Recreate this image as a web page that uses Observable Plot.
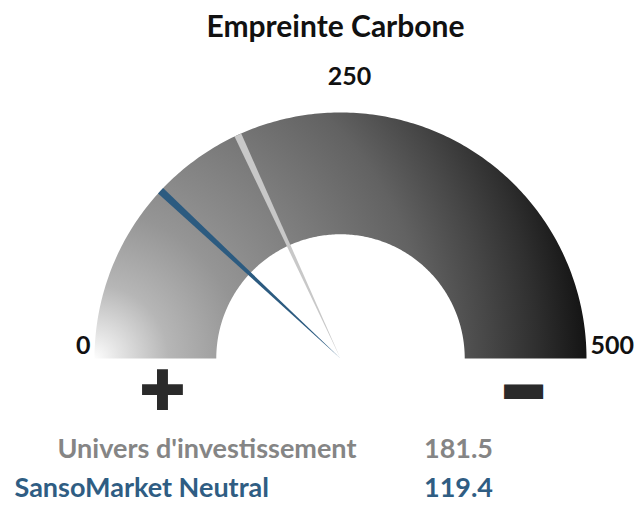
<!DOCTYPE html>
<html><head><meta charset="utf-8">
<script src="https://cdn.jsdelivr.net/npm/d3@7"></script>
<script src="https://cdn.jsdelivr.net/npm/@observablehq/plot@0.6"></script>
<style>body{margin:0;background:#fff;} #chart svg{display:block;}</style>
</head><body><div id="chart"></div>
<script>
// ---- data ----
const chartTitle = "Empreinte Carbone";
const gaugeMin = 0;
const gaugeMax = 500;
const tickValues = [0, 250, 500];
const seriesNames = ["Univers d'investissement", "SansoMarket Neutral"];
const seriesValues = [181.5, 119.4];
const needleColors = ["#c8c8c8", "#2c5b80"];
const labelColors = ["#858585", "#2f5d83"];
const plusSymbol = "✚";
const minusSymbol = "−";

// ---- layout ----
const W = 639, H = 505;
const cx = 340, cy = 358, R = 246;
const innerRatio = 0.505;
const ux = px => (px - cx) / R;
const uy = py => (cy - py) / R;
const font = "Lato, 'Open Sans', sans-serif";

const angle = d3.scaleLinear([gaugeMin, gaugeMax], [Math.PI, 0]);
const pt = (v, rho) => ({x: rho * Math.cos(angle(v)), y: rho * Math.sin(angle(v))});
const steps = d3.range(0, 241).map(i => gaugeMin + (gaugeMax - gaugeMin) * i / 240);
const band = [...steps.map(v => pt(v, 1)), ...steps.slice().reverse().map(v => pt(v, innerRatio))];

const needles = seriesValues.flatMap((v, i) => {
  const a = angle(v), d = 0.015;
  return [{x: 0, y: 0}, {x: Math.cos(a + d), y: Math.sin(a + d)}, {x: Math.cos(a - d), y: Math.sin(a - d)}]
    .map(p => ({...p, s: i}));
});

const tickMarks = tickValues.map(t => {
  const isMin = t === gaugeMin, isMax = t === gaugeMax;
  const p = pt(t, 1);
  return Plot.text([t], {
    x: () => p.x, y: () => p.y,
    text: d => String(d),
    textAnchor: isMin ? "end" : isMax ? "start" : "middle",
    dx: isMin ? -4 : isMax ? 4 : 9,
    dy: isMin || isMax ? -13 : -36,
    fontSize: 25, fontWeight: "bold", fontFamily: font, fill: "#111"
  });
});

const legendX = [57, 14];
const legendY = [449, 488];
const valueX = 458;

const plot = Plot.plot({
  width: W, height: H,
  margin: 0,
  x: {domain: [ux(0), ux(W)], axis: null},
  y: {domain: [uy(H), uy(0)], axis: null},
  marks: [
    Plot.line(band, {x: "x", y: "y", fill: "url(#gaugeGrad)", stroke: "none", curve: "linear"}),
    Plot.line(needles, {x: "x", y: "y", z: "s", fill: d => needleColors[d.s], stroke: "none"}),
    Plot.text([chartTitle], {x: () => ux(335), y: () => uy(27), fontSize: 30, fontWeight: "bold", fontFamily: font, fill: "#111"}),
    ...tickMarks,
    Plot.text([plusSymbol], {
      x: () => ux(162), y: () => uy(392),
      fontFamily: "DejaVu Sans", fontSize: 56, fill: "#2a2a2a"
    }),
    Plot.text([minusSymbol], {
      x: () => ux(523), y: () => uy(391),
      fontFamily: "DejaVu Sans", fontWeight: "bold", fontSize: 48,
      fill: "#2a2a2a", stroke: "#2a2a2a", strokeWidth: 9, strokeLinejoin: "miter"
    }),
    Plot.text(seriesNames, {
      x: (d, i) => ux(legendX[i]), y: (d, i) => uy(legendY[i]),
      textAnchor: "start", fontSize: 27, fontWeight: "bold", fontFamily: font,
      fill: (d, i) => labelColors[i]
    }),
    Plot.text(seriesValues, {
      x: () => ux(valueX), y: (d, i) => uy(legendY[i]),
      text: d => d.toFixed(1),
      fontSize: 27, fontWeight: "bold", fontFamily: font,
      fill: (d, i) => labelColors[i]
    })
  ]
});

const svg = d3.select(plot);
const defs = svg.insert("defs", ":first-child");
const g = defs.append("radialGradient").attr("id", "gaugeGrad")
  .attr("gradientUnits", "userSpaceOnUse")
  .attr("cx", cx - R).attr("cy", cy).attr("r", 2 * R);
[[0, "#fdfdfd"], [0.05, "#e4e4e4"], [0.15, "#b6b6b6"], [0.3, "#959595"], [0.5, "#7b7b7b"],
 [0.68, "#626262"], [0.8, "#474747"], [0.9, "#2f2f2f"], [1, "#141414"]]
  .forEach(([o, c]) => g.append("stop").attr("offset", o).attr("stop-color", c));
document.getElementById("chart").append(plot);
</script>
</body></html>
